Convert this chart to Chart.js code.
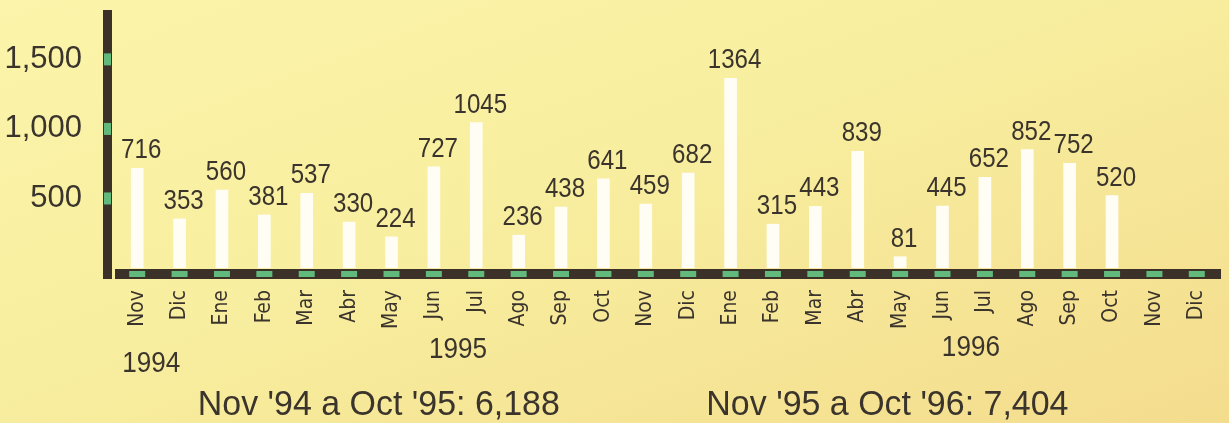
<!DOCTYPE html>
<html>
<head>
<meta charset="utf-8">
<script src="https://cdn.jsdelivr.net/npm/chart.js@4"></script>
<style>
  html, body { margin: 0; padding: 0; }
  body {
    width: 1229px; height: 423px; overflow: hidden;
    background: linear-gradient(160deg, #fbf4aa 0%, #f8ee9f 45%, #f4dc8d 100%);
  }
  #wrap { position: relative; width: 1229px; height: 423px; }
</style>
</head>
<body>
<div id="wrap"><canvas id="chart" width="1229" height="423"></canvas></div>
<script>
const months = ["Nov","Dic","Ene","Feb","Mar","Abr","May","Jun","Jul","Ago","Sep","Oct",
                "Nov","Dic","Ene","Feb","Mar","Abr","May","Jun","Jul","Ago","Sep","Oct","Nov","Dic"];
const values = [716, 353, 560, 381, 537, 330, 224, 727, 1045, 236, 438, 641,
                459, 682, 1364, 315, 443, 839, 81, 445, 652, 852, 752, 520, null, null];
const yTicks = [500, 1000, 1500];
// year label sits under this category index
const years = [{ text: "1994", at: 0.33, dy: 104 }, { text: "1995", at: 7.57, dy: 90 }, { text: "1996", at: 19.67, dy: 88 }];
const totals = [{ text: "Nov '94 a Oct '95: 6,188", at: 5.7 }, { text: "Nov '95 a Oct '96: 7,404", at: 17.7 }];

const FONT = "'Liberation Sans Narrow', 'DejaVu Sans Condensed', 'Liberation Sans', sans-serif";
const SANS = "'Liberation Sans', Arial, sans-serif";
const INK = "#3a342c";
const BAND = "#3b3128";
const GREEN = "#62b97c";

// text squeezed sideways, like the condensed face of the print
function squeezed(c, text, x, y, size, sx) {
  c.save();
  c.translate(x, y);
  c.scale(sx, 1);
  c.font = size + "px " + SANS;
  c.fillText(text, 0, 0);
  c.restore();
}

const decor = {
  id: "decor",
  beforeDatasetsDraw(chart) {
    const c = chart.ctx, a = chart.chartArea;
    const x = chart.scales.x, y = chart.scales.y;
    c.save();
    // vertical band
    c.fillStyle = BAND;
    c.fillRect(a.left - 13, 10, 9, a.bottom + 11 - 10);
    // horizontal band
    c.fillRect(a.left - 1, a.bottom + 1, a.right - a.left + 4, 10);
    c.fillStyle = GREEN;
    yTicks.forEach(v => {
      const py = y.getPixelForValue(v);
      c.fillRect(a.left - 12, py - 6, 7, 12);
    });
    months.forEach((m, i) => {
      const px = x.getPixelForValue(i);
      c.fillRect(px - 8, a.bottom + 3, 16, 6);
    });
    c.restore();
  },
  afterDatasetsDraw(chart) {
    const c = chart.ctx, a = chart.chartArea;
    const x = chart.scales.x;
    const meta = chart.getDatasetMeta(0);
    c.save();
    c.fillStyle = INK;
    c.textAlign = "center";
    c.textBaseline = "alphabetic";
    meta.data.forEach((bar, i) => {
      if (values[i] == null) return;
      squeezed(c, String(values[i]), bar.x + 4, bar.y - 10, 28, 0.86);
    });
    years.forEach(yr => {
      squeezed(c, yr.text, x.getPixelForValue(yr.at), a.bottom + yr.dy, 29, 0.9);
    });
    totals.forEach(t => {
      squeezed(c, t.text, x.getPixelForValue(t.at), 415, 35, 0.97);
    });
    c.restore();
  }
};

new Chart(document.getElementById("chart"), {
  type: "bar",
  data: {
    labels: months,
    datasets: [{
      data: values,
      backgroundColor: "#fffdf4",
      borderWidth: 0,
      barThickness: 12
    }]
  },
  options: {
    responsive: false,
    animation: false,
    layout: { padding: { left: 0, right: 11, top: 10, bottom: 0 } },
    plugins: { legend: { display: false }, tooltip: { enabled: false } },
    scales: {
      x: {
        grid: { display: false, drawTicks: false },
        border: { display: false },
        ticks: {
          autoSkip: false, minRotation: 90, maxRotation: 90, padding: 22,
          color: INK, font: { family: FONT, size: 21 }
        },
        afterFit: s => { s.height = 155; s.paddingLeft = 0; s.paddingRight = 0; }
      },
      y: {
        min: 0, max: 1855,
        grid: { display: false, drawTicks: false },
        border: { display: false },
        afterBuildTicks: s => { s.ticks = yTicks.map(v => ({ value: v })); },
        ticks: {
          padding: 34, color: INK, font: { family: SANS, size: 31 },
          callback: v => v.toLocaleString("en-US")
        },
        afterFit: s => { s.width = 116; s.paddingTop = 0; s.paddingBottom = 0; }
      }
    }
  },
  plugins: [decor]
});
</script>
</body>
</html>
